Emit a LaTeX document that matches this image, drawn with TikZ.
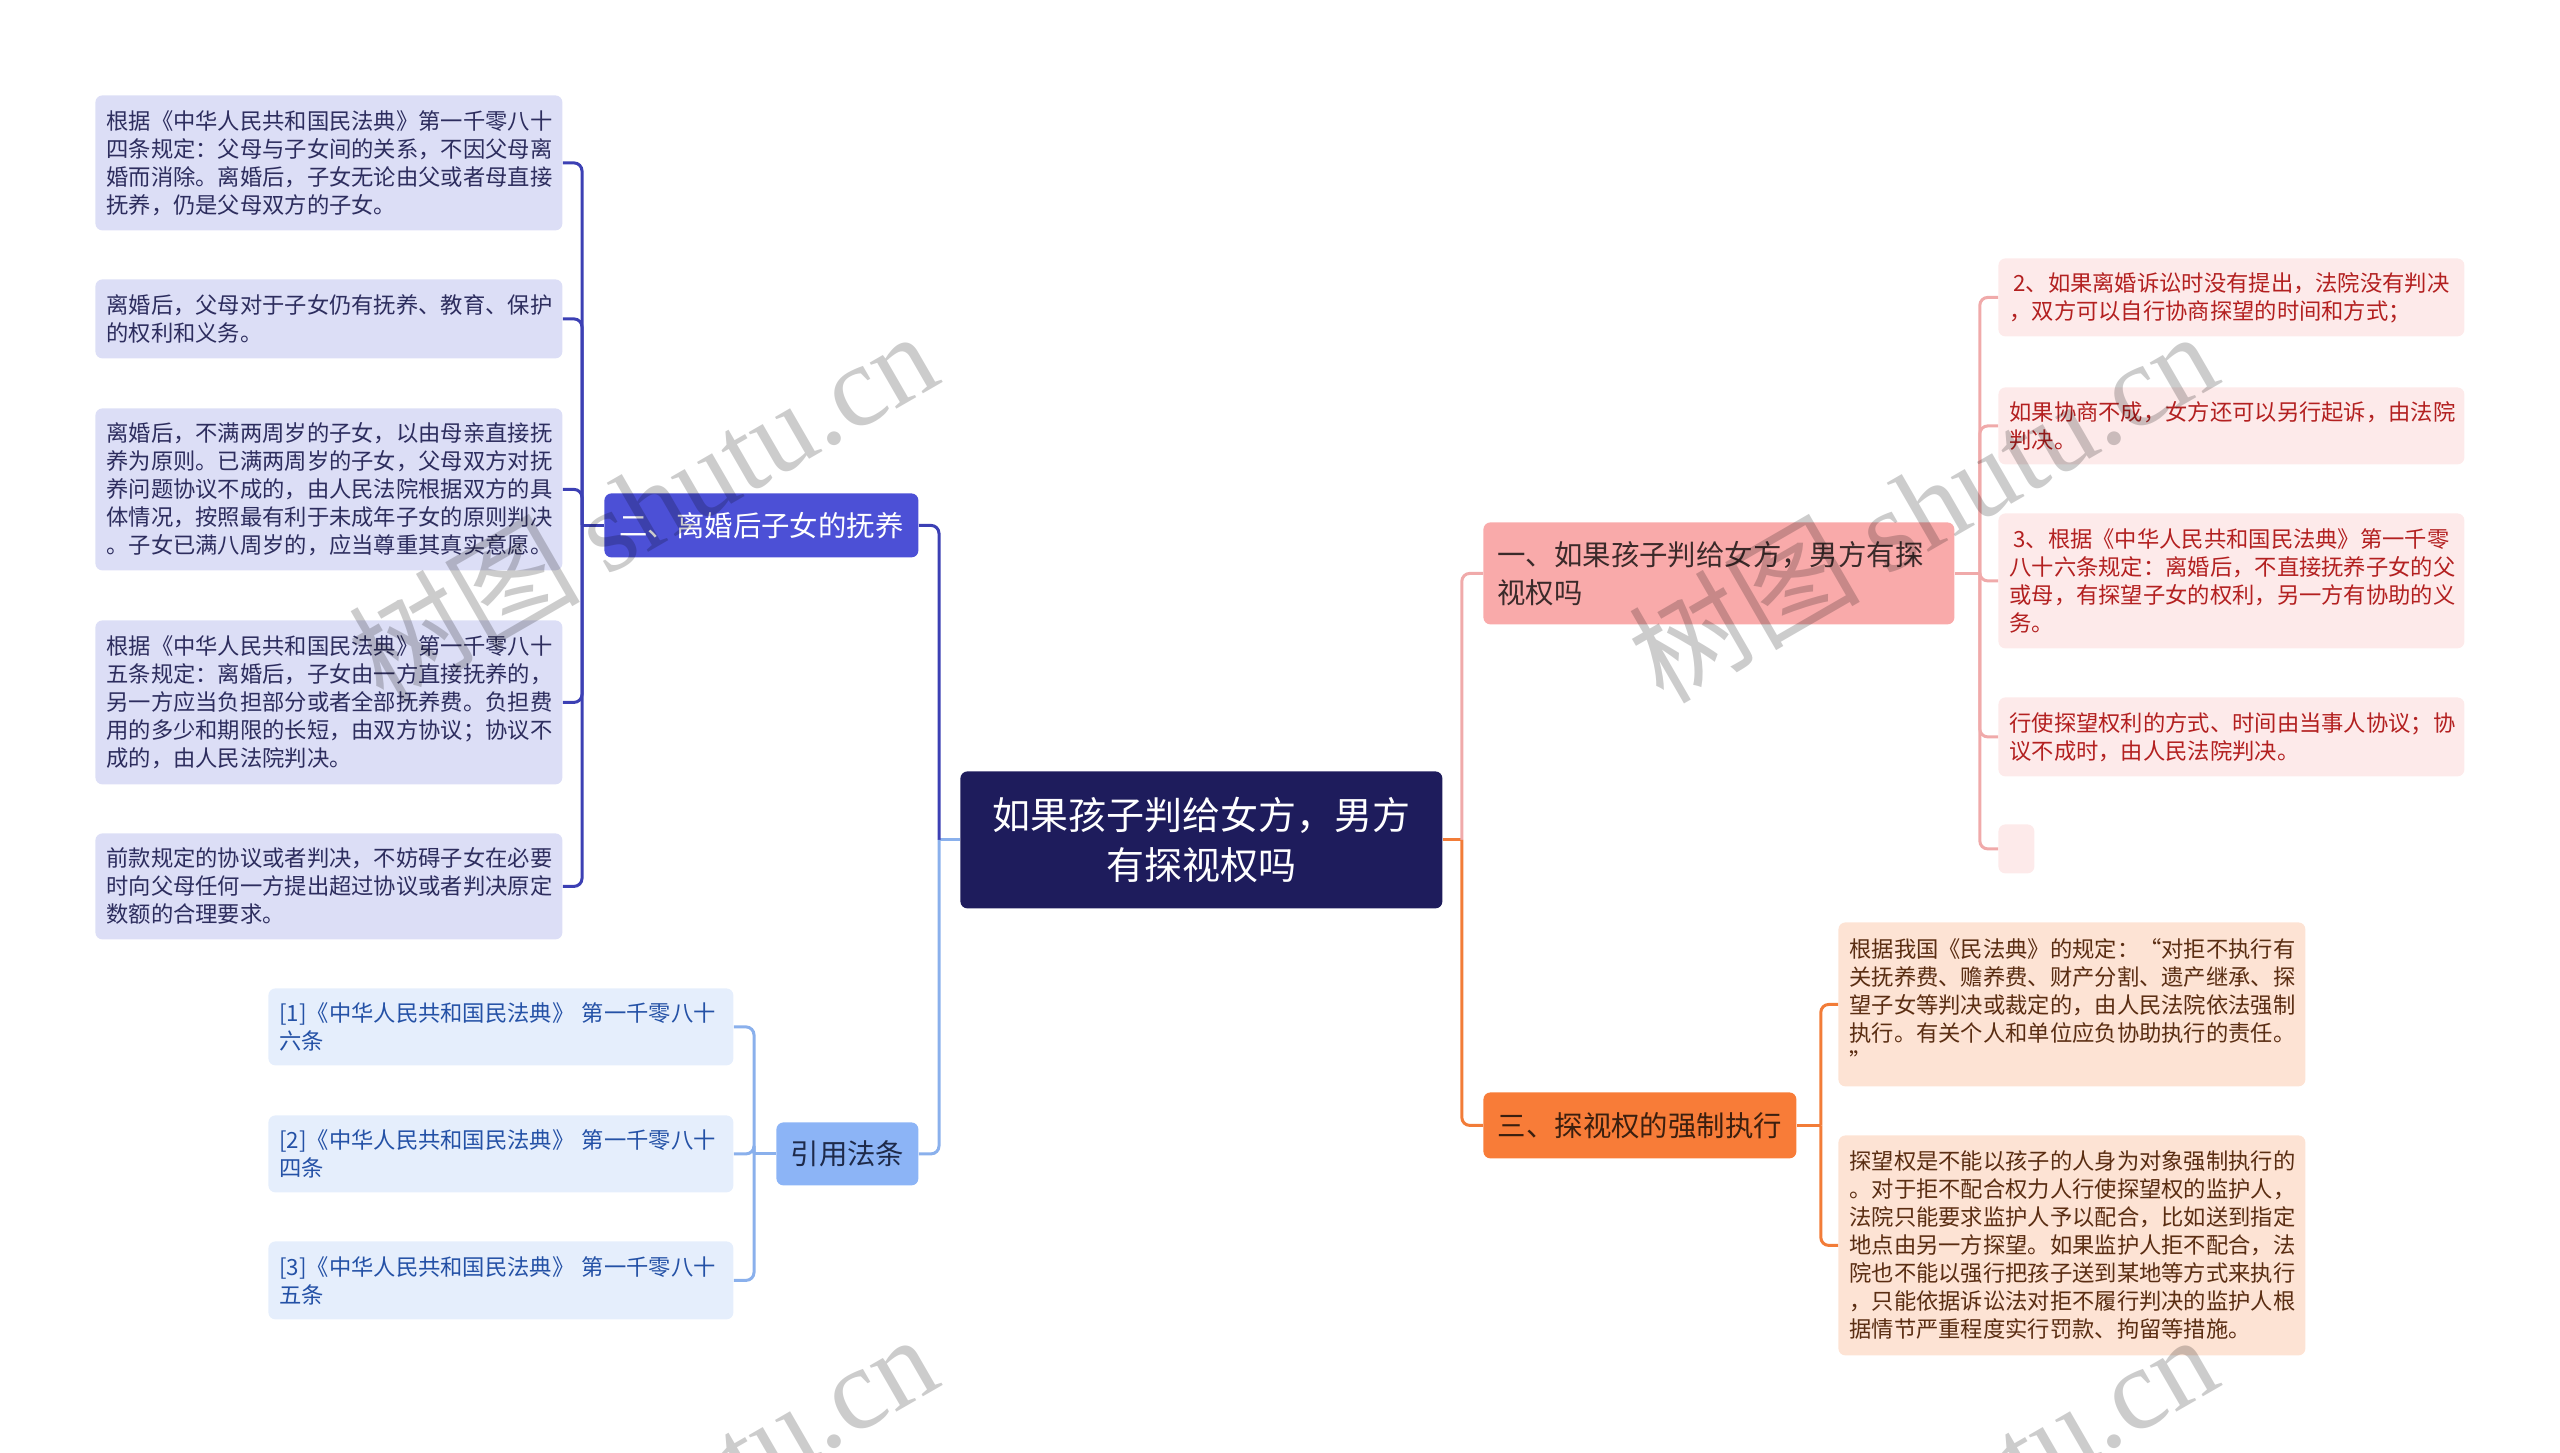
\documentclass[tikz,border=0pt]{standalone}
\usepackage{fontspec}
\setmainfont{Noto Sans CJK SC}
\newfontfamily\wmserif{Liberation Serif}
\definecolor{cfill}{HTML}{1E1C5C}
\definecolor{b2fill}{HTML}{4C50D6}
\definecolor{b2line}{HTML}{3C40B4}
\definecolor{lfill}{HTML}{DCDEF6}
\definecolor{ltext}{HTML}{2D2D5E}
\definecolor{reffill}{HTML}{8CB4F6}
\definecolor{refline}{HTML}{8AB0EC}
\definecolor{reftext}{HTML}{1E2A4A}
\definecolor{citefill}{HTML}{E5EEFC}
\definecolor{citetext}{HTML}{2451A6}
\definecolor{b1fill}{HTML}{F9AAAA}
\definecolor{b1line}{HTML}{F0AAAA}
\definecolor{b1text}{HTML}{3B2A2A}
\definecolor{r1fill}{HTML}{FDEAEA}
\definecolor{r1text}{HTML}{B32020}
\definecolor{b3fill}{HTML}{F87C38}
\definecolor{b3line}{HTML}{F27C38}
\definecolor{b3text}{HTML}{3B1F0F}
\definecolor{r3fill}{HTML}{FDE3D4}
\definecolor{r3text}{HTML}{5A2D12}
\begin{document}
\begin{tikzpicture}[x=0.5pt,y=-0.5pt,
  box/.style={anchor=north west, inner ysep=0pt, rounded corners=3.5pt},
  smallfont/.style={font=\fontsize{11.15pt}{14pt}\selectfont},
  leafL/.style={box, smallfont, fill=lfill, text=ltext, inner xsep=5.5pt, text width=222.5pt, align=left},
  leafC/.style={box, smallfont, fill=citefill, text=citetext, inner xsep=5.5pt, text width=221.5pt, align=left},
  leafR/.style={box, smallfont, fill=r1fill, text=r1text, inner xsep=5.5pt, text width=222pt, align=left},
  leafT/.style={box, smallfont, fill=r3fill, text=r3text, inner xsep=5.5pt, text width=222.5pt, align=left},
  midfont/.style={font=\fontsize{14.2pt}{19pt}\selectfont},
  conn/.style={line width=1.5pt, rounded corners=4pt},
  wm/.style={rotate=30, text=black, opacity=0.2, font=\fontsize{58pt}{62pt}\selectfont, inner sep=0pt}
]
\useasboundingbox (0,0) rectangle (2560,1452);

% central node
\node[box, fill=cfill, text=white, inner xsep=0pt, text width=241pt, align=center,
  minimum height=68.5pt, font=\fontsize{19pt}{25pt}\selectfont] (C) at (960,771)
  {如果孩子判给女方，男方\\有探视权吗};

% main branches
\node[box, midfont, fill=b2fill, text=white, inner xsep=0pt, text width=157pt, align=center, minimum height=32pt] (B2) at (604,493) {二、离婚后子女的抚养};
\node[box, midfont, fill=reffill, text=reftext, inner xsep=0pt, text width=71pt, align=center, minimum height=31.5pt] (REF) at (776,1122) {引用法条};
\node[box, midfont, fill=b1fill, text=b1text, inner xsep=7pt, text width=221.5pt, align=left, minimum height=51pt] (B1) at (1483,522) {一、如果孩子判给女方，男方有探\\视权吗};
\node[box, midfont, fill=b3fill, text=b3text, inner xsep=0pt, text width=156.5pt, align=center, minimum height=33pt] (B3) at (1483,1092) {三、探视权的强制执行};

% left leaves
\node[leafL, minimum height=67.5pt] (L1) at (95,95) {根据《中华人民共和国民法典》第一千零八十\\四条规定：父母与子女间的关系，不因父母离\\婚而消除。离婚后，子女无论由父或者母直接\\抚养，仍是父母双方的子女。};
\node[leafL, minimum height=39.5pt] (L2) at (95,279) {离婚后，父母对于子女仍有抚养、教育、保护\\的权利和义务。};
\node[leafL, minimum height=81pt] (L3) at (95,408) {离婚后，不满两周岁的子女，以由母亲直接抚\\养为原则。已满两周岁的子女，父母双方对抚\\养问题协议不成的，由人民法院根据双方的具\\体情况，按照最有利于未成年子女的原则判决\\。子女已满八周岁的，应当尊重其真实意愿。};
\node[leafL, minimum height=82pt] (L4) at (95,620) {根据《中华人民共和国民法典》第一千零八十\\五条规定：离婚后，子女由一方直接抚养的，\\另一方应当负担部分或者全部抚养费。负担费\\用的多少和期限的长短，由双方协议；协议不\\成的，由人民法院判决。};
\node[leafL, minimum height=53pt] (L5) at (95,833) {前款规定的协议或者判决，不妨碍子女在必要\\时向父母任何一方提出超过协议或者判决原定\\数额的合理要求。};

% citation leaves
\node[leafC, minimum height=38.5pt] (F1) at (268,988) {[1]《中华人民共和国民法典》 第一千零八十\\六条};
\node[leafC, minimum height=38.5pt] (F2) at (268,1115) {[2]《中华人民共和国民法典》 第一千零八十\\四条};
\node[leafC, minimum height=39pt] (F3) at (268,1241) {[3]《中华人民共和国民法典》 第一千零八十\\五条};

% right leaves of branch 1
\node[leafR, minimum height=39pt] (R1) at (1998,258) {\hspace{2pt}2、如果离婚诉讼时没有提出，法院没有判决\\，双方可以自行协商探望的时间和方式；};
\node[leafR, minimum height=38.5pt] (R2) at (1998,387) {如果协商不成，女方还可以另行起诉，由法院\\判决。};
\node[leafR, minimum height=67.5pt] (R3) at (1998,513) {\hspace{2pt}3、根据《中华人民共和国民法典》第一千零\\八十六条规定：离婚后，不直接抚养子女的父\\或母，有探望子女的权利，另一方有协助的义\\务。};
\node[leafR, minimum height=39.5pt] (R4) at (1998,697) {行使探望权利的方式、时间由当事人协议；协\\议不成时，由人民法院判决。};
\node[box, fill=r1fill, inner sep=0pt, minimum width=18pt, minimum height=24.5pt] (R5) at (1998,824) {};

% right leaves of branch 3
\node[leafT, minimum height=82pt] (T1) at (1838,922) {根据我国《民法典》的规定：“对拒不执行有\\关抚养费、赡养费、财产分割、遗产继承、探\\望子女等判决或裁定的，由人民法院依法强制\\执行。有关个人和单位应负协助执行的责任。\\”};
\node[leafT, minimum height=110pt] (T2) at (1838,1135) {探望权是不能以孩子的人身为对象强制执行的\\。对于拒不配合权力人行使探望权的监护人，\\法院只能要求监护人予以配合，比如送到指定\\地点由另一方探望。如果监护人拒不配合，法\\院也不能以强行把孩子送到某地等方式来执行\\，只能依据诉讼法对拒不履行判决的监护人根\\据情节严重程度实行罚款、拘留等措施。};

% junction coordinates
\path (C.west) ++(-21,0) coordinate (jl);
\path (C.east) ++(19,0) coordinate (jr);
\path (B2.west) ++(-22,0) coordinate (j2);
\path (REF.west) ++(-22,0) coordinate (jref);
\path (B1.east) ++(25,0) coordinate (j1);
\path (B3.east) ++(24,0) coordinate (j3);

% connectors: centre to branches
\draw[conn, refline] (C.west) -- (jl);
\draw[conn, b2line] (jl) |- (B2.east);
\draw[conn, refline] (jl) |- (REF.east);
\draw[conn, b3line] (C.east) -- (jr);
\draw[conn, b1line] (jr) |- (B1.west);
\draw[conn, b3line] (jr) |- (B3.west);

% branch 2
\draw[conn, b2line] (B2.west) -- (j2);
\foreach \n in {L1,L2,L3,L4,L5} \draw[conn, b2line] (j2) |- (\n.east);
% citations
\draw[conn, refline] (REF.west) -- (jref);
\foreach \n in {F1,F2,F3} \draw[conn, refline] (jref) |- (\n.east);
% branch 1
\draw[conn, b1line] (B1.east) -- (j1);
\foreach \n in {R1,R2,R3,R4,R5} \draw[conn, b1line] (j1) |- (\n.west);
% branch 3
\draw[conn, b3line] (B3.east) -- (j3);
\foreach \n in {T1,T2} \draw[conn, b3line] (j3) |- (\n.west);

% watermarks
\begin{scope}
\clip (0,0) rectangle (2560,1452);
\node[wm] (W1) at (642,505) {树图 {\wmserif shutu.cn}};
\node[wm] (W2) at (1922,505) {树图 {\wmserif shutu.cn}};
\node[wm] (W3) at (642,1508) {树图 {\wmserif shutu.cn}};
\node[wm] (W4) at (1922,1508) {树图 {\wmserif shutu.cn}};
\end{scope}
\end{tikzpicture}
\end{document}
